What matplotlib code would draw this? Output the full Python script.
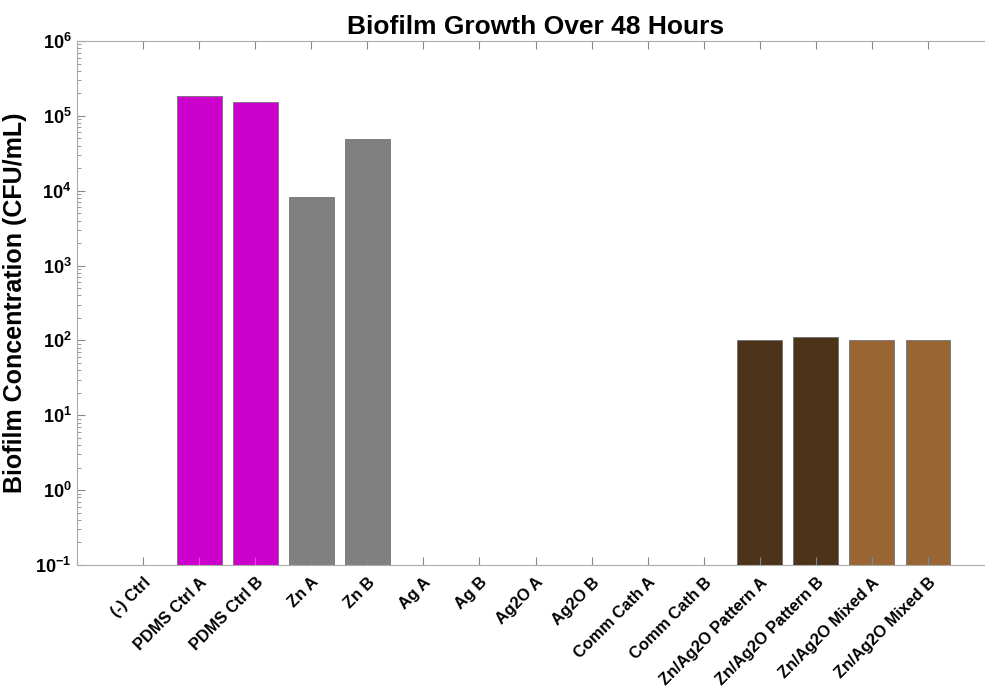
import numpy as np
import matplotlib
matplotlib.use('Agg')
from matplotlib import pyplot as plt
from matplotlib.ticker import LogLocator, NullFormatter

# data
groups = ['(-) Ctrl', 'PDMS Ctrl A', 'PDMS Ctrl B', 'Zn A', 'Zn B', 'Ag A', 'Ag B',
          'Ag2O A', 'Ag2O B', 'Comm Cath A', 'Comm Cath B',
          'Zn/Ag2O Pattern A', 'Zn/Ag2O Pattern B', 'Zn/Ag2O Mixed A', 'Zn/Ag2O Mixed B']
cfu = [0, 1.85e5, 1.53e5, 8.2e3, 4.9e4, 0, 0, 0, 0, 0, 0, 102, 110, 101, 101]
colors = ['#808080', '#CC00CC', '#CC00CC', '#808080', '#808080', '#808080', '#808080',
          '#808080', '#808080', '#808080', '#808080',
          '#4D331A', '#4D331A', '#996633', '#996633']

plt.rcParams['font.family'] = ['Liberation Sans', 'DejaVu Sans']
plt.rcParams['font.weight'] = 'bold'

fig = plt.figure(figsize=(9.85, 6.88), dpi=100)
ax = fig.add_axes([77 / 985, 1 - 565 / 688, 917 / 985, 524 / 688])

x = np.arange(1, len(groups) + 1)
ax.bar(x, cfu, width=0.8, color=colors, edgecolor='#666666', linewidth=0.5)

ax.set_yscale('log')
ax.set_ylim(1e-1, 1e6)
ax.set_xlim(1 - 66 / 56, len(groups) + 66 / 56)
ax.yaxis.set_major_locator(LogLocator(base=10, numticks=10))
ax.yaxis.set_minor_locator(LogLocator(base=10, subs=np.arange(2, 10), numticks=10))
ax.yaxis.set_minor_formatter(NullFormatter())

ax.set_xticks(x)
ax.set_xticklabels(groups, rotation=45, ha='right', rotation_mode='anchor',
                   fontsize=11.8, fontweight='bold')
ax.tick_params(axis='x', direction='in', length=6, top=True, color='#888888', pad=7)
ax.tick_params(axis='y', which='major', direction='in', length=6, color='#888888',
               labelsize=13, pad=4)
ax.tick_params(axis='y', which='minor', direction='in', length=3, color='#888888')
for s in ax.spines.values():
    s.set_color('#aaaaaa')
    s.set_linewidth(0.8)

ax.set_ylabel('Biofilm Concentration (CFU/mL)', fontsize=18, fontweight='bold', labelpad=6)
ax.set_title('Biofilm Growth Over 48 Hours', fontsize=19, fontweight='bold', pad=5)

fig.savefig('out.png', dpi=100)
